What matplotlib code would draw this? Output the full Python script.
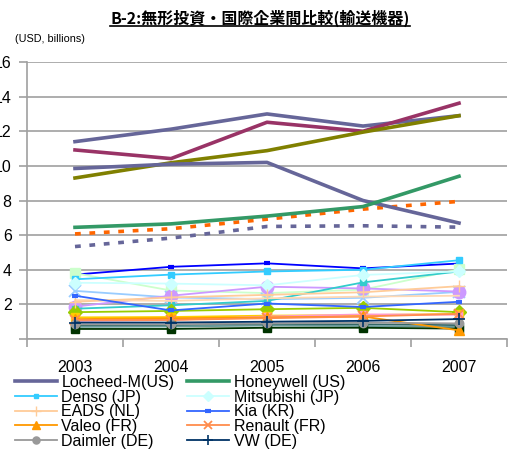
import matplotlib
matplotlib.use("Agg")
import matplotlib.pyplot as plt
from matplotlib.lines import Line2D

# ---------------- data ----------------
years = ["2003", "2004", "2005", "2006", "2007"]

locheed = [9.85, 10.1, 10.2, 8.0, 6.7]
honeywell = [6.45, 6.65, 7.1, 7.65, 9.4]
denso = [3.45, 3.72, 3.9, 4.0, 4.55]
mitsubishi = [3.25, 3.2, 3.1, 3.7, 3.9]
eads = [2.15, 2.4, 2.55, 2.7, 3.05]
kia = [2.5, 1.65, 2.05, 1.85, 2.15]
valeo = [1.15, 1.2, 1.25, 1.3, 0.5]
renault = [1.1, 1.1, 1.2, 1.3, 1.45]
daimler = [0.85, 0.85, 0.9, 0.95, 0.9]
vw = [0.95, 0.95, 1.0, 1.05, 1.15]

other_a = [11.4, 12.12, 13.0, 12.3, 12.9]   # purple, thick
other_b = [10.92, 10.42, 12.52, 12.0, 13.62]  # maroon, thick
other_c = [9.3, 10.18, 10.88, 11.95, 12.9]   # olive, thick
other_d = [6.07, 6.37, 6.92, 7.5, 7.95]      # orange dashed
other_e = [5.34, 5.83, 6.5, 6.54, 6.46]      # purple dashed
other_f = [3.72, 4.17, 4.37, 4.08, 4.36]     # blue
other_g = [3.8, 2.8, 2.65, 2.85, 4.02]       # light green
other_h = [2.78, 2.4, 2.3, 2.38, 2.72]       # light blue x
other_i = [1.87, 2.5, 3.02, 2.92, 2.74]      # lavender
other_j = [1.75, 1.95, 2.2, 3.27, 3.9]       # teal
other_k = [1.55, 1.62, 1.72, 1.8, 1.55]      # yellow-green
other_l = [1.25, 1.27, 1.35, 1.38, 1.45]     # gold
other_m = [1.05, 1.1, 1.3, 1.42, 1.4]        # pink
other_n = [0.78, 0.8, 0.85, 0.85, 0.8]       # dark teal
other_o = [0.7, 0.72, 0.78, 0.75, 0.7]       # gray-green
other_p = [0.58, 0.58, 0.65, 0.65, 0.6]      # dark green
other_q = [2.25, 2.2, 2.35, 2.45, 2.5]       # pale peach

legend_labels = ["Locheed-M(US)", "Honeywell (US)", "Denso (JP)", "Mitsubishi (JP)",
                 "EADS (NL)", "Kia (KR)", "Valeo (FR)", "Renault (FR)",
                 "Daimler (DE)", "VW (DE)"]
legend_values = [locheed, honeywell, denso, mitsubishi, eads, kia, valeo,
                 renault, daimler, vw]
other_values = [other_a, other_b, other_c, other_d, other_e, other_f, other_g,
                other_h, other_i, other_j, other_k, other_l, other_m, other_n,
                other_o, other_p, other_q]

# ---------------- styles ----------------
legend_styles = [
    dict(color="#666699", lw=2.6),
    dict(color="#339966", lw=2.6),
    dict(color="#33ccff", lw=1.3, marker="s", ms=4),
    dict(color="#ccffff", lw=1.3, marker="D", ms=6),
    dict(color="#ffcc99", lw=1.3, marker="+", ms=8, mew=1),
    dict(color="#3366ff", lw=1.3, marker="_", ms=5, mew=3),
    dict(color="#ff9900", lw=1.3, marker="^", ms=7),
    dict(color="#ff8c4c", lw=1.3, marker="x", ms=7, mew=1.3),
    dict(color="#999999", lw=1.3, marker="o", ms=6),
    dict(color="#003366", lw=1.3, marker="+", ms=8, mew=1.2),
]
other_styles = [
    dict(color="#666699", lw=2.6),
    dict(color="#993366", lw=2.6),
    dict(color="#808000", lw=2.6),
    dict(color="#ff6600", lw=2.6, ls=(0, (1.6, 2.4))),
    dict(color="#666699", lw=2.6, ls=(0, (1.6, 2.4))),
    dict(color="#0000ff", lw=1.3, marker="_", ms=5, mew=3),
    dict(color="#ccffcc", lw=1.3, marker="s", ms=7),
    dict(color="#99ccff", lw=1.3, marker="x", ms=8, mew=1.3),
    dict(color="#cc99ff", lw=1.3, marker="o", ms=9),
    dict(color="#33cccc", lw=1.3, marker="s", ms=4),
    dict(color="#99cc00", lw=1.3, marker="D", ms=7),
    dict(color="#ffcc00", lw=1.3, marker="s", ms=6),
    dict(color="#ff99cc", lw=1.3, marker="s", ms=5),
    dict(color="#336666", lw=1.3, marker="s", ms=5),
    dict(color="#669999", lw=1.3, marker="s", ms=6),
    dict(color="#003300", lw=1.3, marker="s", ms=6),
    dict(color="#ffd9b3", lw=1.3),
]

plt.rcParams["font.family"] = ["Liberation Sans", "DejaVu Sans"]

W, H = 508, 455
fig = plt.figure(figsize=(W / 100, H / 100), dpi=100)
ax = fig.add_axes([27 / W, (H - 339) / H, (507 - 27) / W, (339 - 62) / H])

x = list(range(len(years)))

for vals, st in zip(other_values, other_styles):
    ax.plot(x, vals, markeredgecolor=st["color"], **st)

handles = []
for lab, vals, st in zip(legend_labels, legend_values, legend_styles):
    h, = ax.plot(x, vals, label=lab, markeredgecolor=st["color"], **st)
    handles.append(h)

ax.set_xlim(-0.5, len(years) - 0.5)
ax.set_ylim(0, 16)
ax.set_yticks(range(0, 17, 2))
ax.set_yticklabels([""] + [str(v) for v in range(2, 17, 2)])
ax.set_xticks(x)
ax.set_xticklabels(years)
ax.set_xticks([i - 0.5 for i in range(len(years) + 1)], minor=True)
ax.tick_params(axis="x", which="major", length=0, pad=15, labelsize=11.5)
ax.tick_params(axis="x", which="minor", length=6, color="#a0a0a0", width=1.2)
ax.tick_params(axis="y", length=6, color="#a0a0a0", width=1.2, pad=5, labelsize=11.5)
ax.grid(axis="y", color="#a0a0a0", lw=1.2)
ax.set_axisbelow(True)
for s in ["top", "right"]:
    ax.spines[s].set_visible(False)
for s in ["left", "bottom"]:
    ax.spines[s].set_color("#a0a0a0")
    ax.spines[s].set_linewidth(1.2)

# legend (row-major in two columns)
order = [0, 2, 4, 6, 8, 1, 3, 5, 7, 9]
leg = fig.legend([handles[i] for i in order], [legend_labels[i] for i in order],
                 loc="upper left", bbox_to_anchor=(15 / W, 1 - 375 / H),
                 ncol=2, frameon=False, fontsize=11.5, handlelength=2.6,
                 handletextpad=0.3, columnspacing=0.8, labelspacing=-0.02,
                 borderpad=0, borderaxespad=0, markerscale=0.85)

fig.text(15 / W, 1 - 39 / H, "(USD, billions)", fontsize=7.8, va="center", ha="left")

title = fig.text(260 / W, 1 - 18 / H, "B-2:無形投資・国際企業間比較(輸送機器)",
                 fontsize=11.5, fontweight="bold", ha="center", va="center",
                 family=["Noto Sans CJK JP", "DejaVu Sans"])
fig.canvas.draw()
bb = title.get_window_extent()
uy = bb.y0 + 1
fig.add_artist(Line2D([bb.x0 / W, bb.x1 / W], [uy / H, uy / H],
                      transform=fig.transFigure, color="black", lw=1.2))

fig.savefig("out.png", dpi=100)
